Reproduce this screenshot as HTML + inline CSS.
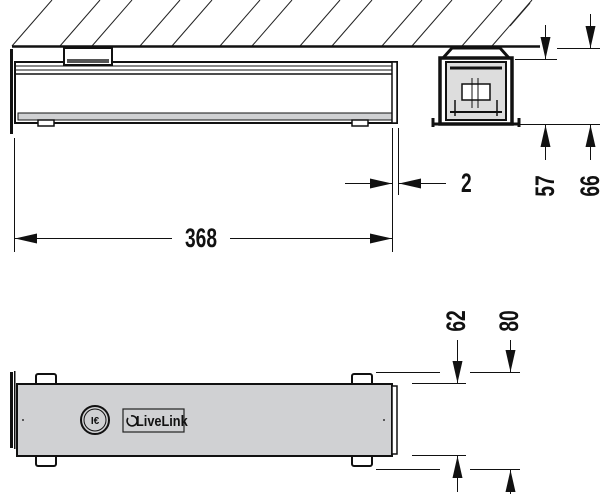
<!DOCTYPE html>
<html><head><style>html,body{margin:0;padding:0;background:#fff}svg{display:block}</style></head><body>
<svg width="600" height="494" viewBox="0 0 600 494" xmlns="http://www.w3.org/2000/svg" font-family="'Liberation Sans', sans-serif">
<g stroke="#222" stroke-width="1">
<line x1="12" y1="46" x2="52" y2="0"/><line x1="60" y1="46" x2="100" y2="0"/><line x1="92" y1="46" x2="132" y2="0"/><line x1="140" y1="46" x2="180" y2="0"/><line x1="172" y1="46" x2="212" y2="0"/><line x1="220" y1="46" x2="260" y2="0"/><line x1="252" y1="46" x2="292" y2="0"/><line x1="300" y1="46" x2="340" y2="0"/><line x1="332" y1="46" x2="372" y2="0"/><line x1="382" y1="46" x2="422" y2="0"/><line x1="412" y1="46" x2="452" y2="0"/><line x1="462" y1="46" x2="502" y2="0"/><line x1="492" y1="46" x2="532" y2="0"/><line x1="510" y1="26" x2="530" y2="3"/>
</g>
<line x1="12" y1="46.5" x2="540" y2="46.5" stroke="#111" stroke-width="2.5"/>
<rect x="10" y="49" width="3" height="85" fill="#111"/>
<rect x="15" y="62" width="382" height="61" fill="#fff" stroke="#111" stroke-width="2"/>
<line x1="15" y1="66" x2="395" y2="66" stroke="#111"/><line x1="15" y1="70" x2="395" y2="70" stroke="#111"/><line x1="15" y1="74" x2="395" y2="74" stroke="#111" stroke-width="1.5"/>
<rect x="18" y="113" width="374" height="7" fill="#d0d1d3" stroke="#111"/>
<rect x="392" y="62" width="5" height="61" fill="#fff" stroke="#111" stroke-width="1.5"/>
<rect x="64" y="48" width="48" height="17" fill="#fff" stroke="#111" stroke-width="2"/>
<rect x="67" y="59" width="42" height="4" fill="#555"/>
<rect x="38" y="120" width="16" height="6" fill="#fff" stroke="#111" stroke-width="1.5"/>
<rect x="352" y="120" width="16" height="6" fill="#fff" stroke="#111" stroke-width="1.5"/>
<g stroke="#111" fill="none">
<path d="M443,58 L452,48 L500,48 L509,58" stroke-width="3"/>
<rect x="440" y="58" width="72" height="66" stroke-width="3.5"/>
<rect x="446" y="62" width="60" height="58" stroke-width="2" fill="#ddd"/>
<line x1="432" y1="124" x2="520" y2="124" stroke-width="3"/>
<line x1="433" y1="118" x2="433" y2="127" stroke-width="3"/><line x1="519" y1="118" x2="519" y2="127" stroke-width="3"/>
<rect x="462" y="84" width="28" height="16" stroke-width="1.5" fill="#fff"/>
<line x1="472" y1="78" x2="472" y2="108"/><line x1="478" y1="78" x2="478" y2="108"/>
<line x1="450" y1="68" x2="502" y2="68" stroke-width="3"/>
<line x1="450" y1="112" x2="502" y2="112" stroke-width="2"/>
<line x1="455" y1="100" x2="455" y2="116" stroke-width="1.5"/><line x1="497" y1="100" x2="497" y2="116" stroke-width="1.5"/>
</g>
<g stroke="#111" stroke-width="1">
<line x1="515" y1="59.5" x2="557" y2="59.5"/><line x1="557" y1="48.5" x2="600" y2="48.5"/>
<line x1="520" y1="124.5" x2="600" y2="124.5"/>
<line x1="545.5" y1="25" x2="545.5" y2="59"/>
<line x1="545.5" y1="160" x2="545.5" y2="125"/>
<line x1="590.5" y1="14" x2="590.5" y2="48"/>
<line x1="590.5" y1="160" x2="590.5" y2="125"/>
<line x1="392.5" y1="128" x2="392.5" y2="252"/><line x1="398.5" y1="128" x2="398.5" y2="195"/>
<line x1="345" y1="183.5" x2="392" y2="183.5"/>
<line x1="446" y1="183.5" x2="399" y2="183.5"/>
<line x1="14.5" y1="138" x2="14.5" y2="252"/>
<line x1="172" y1="238.5" x2="15" y2="238.5"/>
<line x1="230" y1="238.5" x2="392" y2="238.5"/>
<line x1="376" y1="372.5" x2="440" y2="372.5"/><line x1="470" y1="372.5" x2="520" y2="372.5"/>
<line x1="412" y1="383.5" x2="466" y2="383.5"/>
<line x1="412" y1="455.5" x2="466" y2="455.5"/>
<line x1="376" y1="469.5" x2="440" y2="469.5"/><line x1="470" y1="469.5" x2="520" y2="469.5"/>
<line x1="457.5" y1="340" x2="457.5" y2="383"/>
<line x1="457.5" y1="492" x2="457.5" y2="456"/>
<line x1="510.5" y1="340" x2="510.5" y2="372"/>
<line x1="510.5" y1="494" x2="510.5" y2="470"/>
</g>
<g fill="#111">
<!-- down arrows: tip at y -->
<path d="M540.5,37 L550.5,37 L545.5,59z"/>
<path d="M540.5,147 L550.5,147 L545.5,125z"/>
<path d="M585.5,26 L595.5,26 L590.5,48z"/>
<path d="M585.5,147 L595.5,147 L590.5,125z"/>
<path d="M370,178.5 L370,188.5 L392,183.5z"/>
<path d="M421,178.5 L421,188.5 L399,183.5z"/>
<path d="M37,233.5 L37,243.5 L15,238.5z"/>
<path d="M370,233.5 L370,243.5 L392,238.5z"/>
<path d="M452.5,361 L462.5,361 L457.5,383z"/>
<path d="M452.5,478 L462.5,478 L457.5,456z"/>
<path d="M505.5,350 L515.5,350 L510.5,372z"/>
<path d="M505.5,492 L515.5,492 L510.5,470z"/>
</g>
<g font-weight="bold" font-size="24" fill="#111">
<text transform="translate(461,192) scale(0.8,1.1)">2</text>
<text transform="translate(201,247) scale(0.8,1.1)" text-anchor="middle">368</text>
<text transform="translate(554,186) rotate(-90) scale(0.8,1.1)" text-anchor="middle">57</text>
<text transform="translate(599,186) rotate(-90) scale(0.8,1.1)" text-anchor="middle">66</text>
<text transform="translate(465,321) rotate(-90) scale(0.8,1.1)" text-anchor="middle">62</text>
<text transform="translate(518,321) rotate(-90) scale(0.8,1.1)" text-anchor="middle">80</text>
</g>
<rect x="10" y="372" width="3" height="76" fill="#111"/>
<rect x="14" y="371" width="1.5" height="78" fill="#111"/>
<g stroke="#111" stroke-width="2" fill="#fff">
<rect x="36" y="374" width="20" height="12" rx="2"/><rect x="352" y="374" width="20" height="12" rx="2"/>
<rect x="36" y="454" width="20" height="12" rx="2"/><rect x="352" y="454" width="20" height="12" rx="2"/>
</g>
<rect x="17" y="384" width="375" height="72" fill="#d0d1d3" stroke="#111" stroke-width="2"/>
<rect x="392" y="386" width="5" height="68" fill="#fff" stroke="#111" stroke-width="1.5"/>
<circle cx="23" cy="420" r="1" fill="#333"/><circle cx="384" cy="420" r="1" fill="#333"/>
<circle cx="95" cy="420" r="14" fill="none" stroke="#111" stroke-width="2"/>
<circle cx="95" cy="420" r="11" fill="none" stroke="#111" stroke-width="1"/>
<text x="95" y="424" font-size="10" font-weight="bold" text-anchor="middle" fill="#111">I€</text>
<rect x="123" y="409" width="61" height="23" fill="none" stroke="#222" stroke-width="1.2"/>
<path d="M131,416 A5,5 0 1 1 128,418" fill="none" stroke="#111" stroke-width="1.6"/>
<text transform="translate(136,426) scale(0.85,1)" font-size="15" font-weight="bold" fill="#111">LiveLink</text>
</svg>
</body></html>
